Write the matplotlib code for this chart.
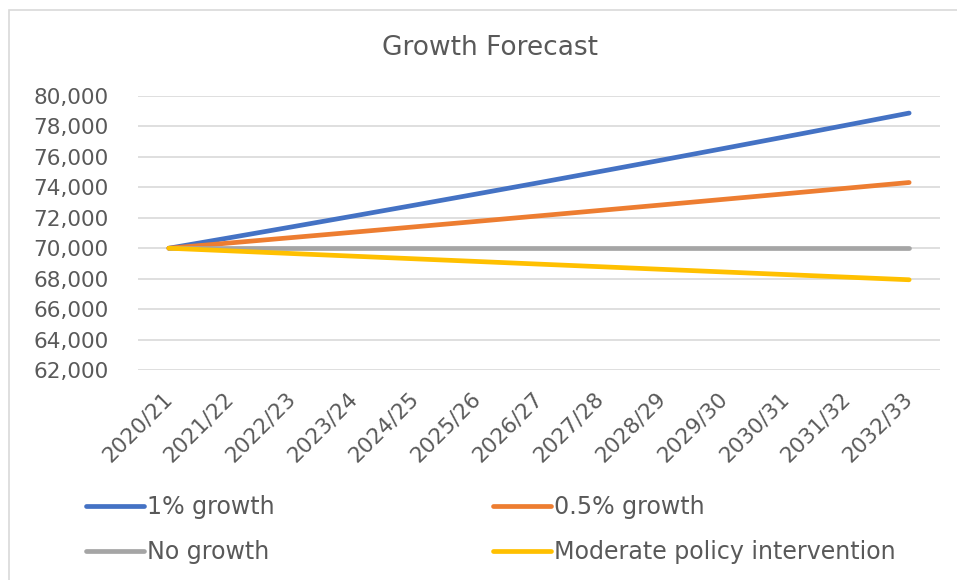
import matplotlib.pyplot as plt
from matplotlib.patches import Rectangle
from matplotlib.ticker import FuncFormatter
from matplotlib.transforms import ScaledTranslation

# Data
years = ["2020/21", "2021/22", "2022/23", "2023/24", "2024/25", "2025/26", "2026/27",
         "2027/28", "2028/29", "2029/30", "2030/31", "2031/32", "2032/33"]
growth_1 = [70000, 70700, 71407, 72121, 72842, 73571, 74306,
            75049, 75800, 76558, 77324, 78097, 78878]
growth_05 = [70000, 70350, 70702, 71055, 71410, 71767, 72126,
             72487, 72849, 73214, 73580, 73948, 74317]
no_growth = [70000, 70000, 70000, 70000, 70000, 70000, 70000,
             70000, 70000, 70000, 70000, 70000, 70000]
moderate = [70000, 69825, 69650, 69476, 69302, 69129, 68956,
            68784, 68612, 68440, 68269, 68098, 67928]
y_ticks = [62000, 64000, 66000, 68000, 70000, 72000, 74000, 76000, 78000, 80000]

text_col = "#595959"
grid_col = "#d9d9d9"

fig = plt.figure(figsize=(9.57, 5.8), dpi=100)
fig.patch.set_facecolor("white")

# chart border
fig.patches.append(Rectangle((9 / 957, -0.05), 1.1, 1 - 10 / 580 + 0.05,
                             transform=fig.transFigure, fill=False,
                             edgecolor=grid_col, linewidth=1.2))

ax = fig.add_axes([138 / 957, 1 - 370 / 580, (940 - 138) / 957, (370 - 96) / 580])
x = list(range(len(years)))

lw = 3.4
l1, = ax.plot(x, growth_1, color="#4472C4", lw=lw, solid_capstyle="round", label="1% growth")
l2, = ax.plot(x, growth_05, color="#ED7D31", lw=lw, solid_capstyle="round", label="0.5% growth")
l3, = ax.plot(x, no_growth, color="#A5A5A5", lw=lw, solid_capstyle="round", label="No growth")
l4, = ax.plot(x, moderate, color="#FFC000", lw=lw, solid_capstyle="round",
              label="Moderate policy intervention")

ax.set_xlim(-0.5, len(years) - 0.5)
ax.set_ylim(62000, 80000)
ax.set_yticks(y_ticks)
ax.yaxis.set_major_formatter(FuncFormatter(lambda v, p: f"{int(v):,}"))
ax.grid(axis="y", color=grid_col, lw=1.2)
ax.set_axisbelow(True)
for s in ax.spines.values():
    s.set_visible(False)

ax.tick_params(axis="y", length=0, pad=21, labelsize=15.5, labelcolor=text_col)
ax.tick_params(axis="x", length=0, pad=13.5, labelsize=15.5, labelcolor=text_col)
ax.set_xticks(x)
ax.set_xticklabels(years, rotation=45, ha="right", rotation_mode="anchor")
shift = ScaledTranslation(-7 / 100, 0, fig.dpi_scale_trans)
for lab in ax.get_xticklabels():
    lab.set_transform(lab.get_transform() + shift)

fig.text(490 / 957, 1 - 48 / 580, "Growth Forecast", ha="center", va="center",
         fontsize=19, color=text_col)

leg_kw = dict(frameon=False, fontsize=17.1, labelcolor=text_col, handlelength=2.45,
              handletextpad=0.1, labelspacing=0.9, borderaxespad=0, borderpad=0)
fig.legend([l1, l3], ["1% growth", "No growth"], loc="upper left",
           bbox_to_anchor=(86 / 957, 1 - 495 / 580), **leg_kw)
fig.legend([l2, l4], ["0.5% growth", "Moderate policy intervention"], loc="upper left",
           bbox_to_anchor=(493 / 957, 1 - 495 / 580), **leg_kw)

fig.savefig("out.png", dpi=100)
